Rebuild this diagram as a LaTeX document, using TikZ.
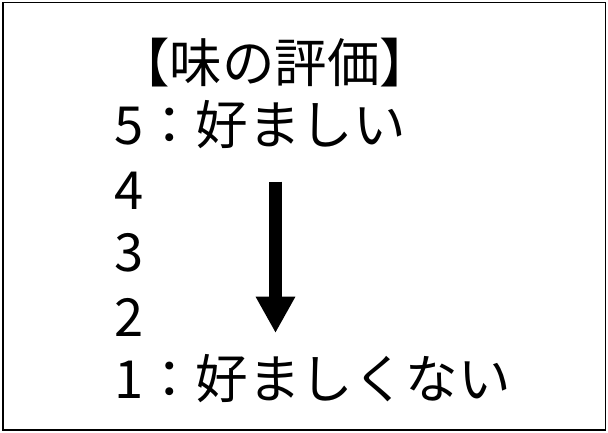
\documentclass[tikz,border=0pt]{standalone}
\usepackage{fontspec}
\setmainfont{Noto Sans CJK JP}
\usetikzlibrary{arrows.meta}
\begin{document}
\begin{tikzpicture}[x=1pt,y=-1pt,
  txt/.style={anchor=base west,inner sep=0pt,font=\fontsize{52.5}{52.5}\selectfont},
  frame/.style={draw=black,line width=1.8pt},
  bigarrow/.style={line width=12.4pt,-{Triangle[width=37pt,length=36.3pt]}}]
\useasboundingbox (0,0) rectangle (608,432);
\draw[frame] (2.8,2.5) rectangle (605.5,430.3);
\node[txt] (title) at (117,82) {【味の評価】};
\node[txt] (l5) at (114,144) {5：好ましい};
\node[txt] (l4) at (114,209) {4};
\node[txt] (l3) at (114,271.5) {3};
\node[txt] (l2) at (114,336) {2};
\node[txt] (l1) at (114,398) {1：好ましくない};
\coordinate (atop) at (275.5,181.7);
\coordinate (abot) at (275.5,333);
\draw[bigarrow] (atop) -- (abot);
\end{tikzpicture}
\end{document}
